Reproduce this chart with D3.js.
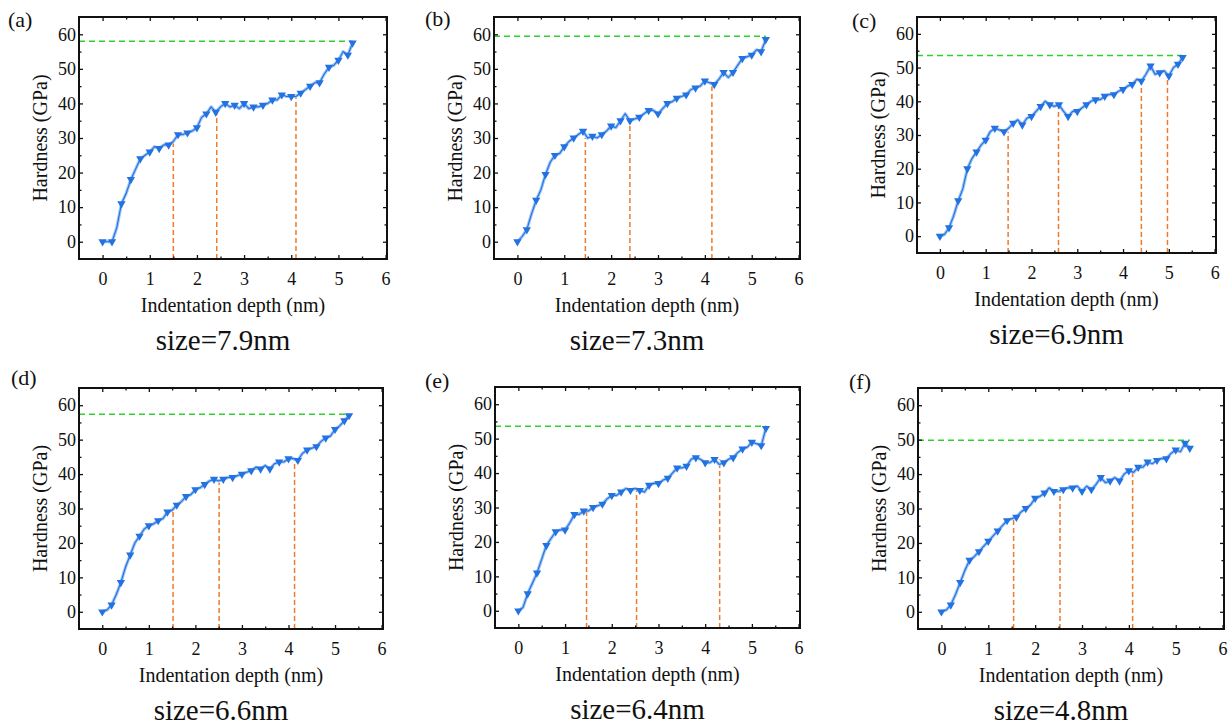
<!DOCTYPE html>
<html>
<head>
<meta charset="utf-8">
<script src="https://cdn.jsdelivr.net/npm/d3@7"></script>
<style>
  body { margin: 0; background: #fff; }
  svg { display: block; }
</style>
</head>
<body>
<div id="chart"></div>
<script>
var depth = [0, 0.1, 0.2, 0.3, 0.4, 0.5, 0.6, 0.7, 0.8, 0.9,
  1.0, 1.1, 1.2, 1.3, 1.4, 1.5, 1.6, 1.7, 1.8, 1.9,
  2.0, 2.1, 2.2, 2.3, 2.4, 2.5, 2.6, 2.7, 2.8, 2.9,
  3.0, 3.1, 3.2, 3.3, 3.4, 3.5, 3.6, 3.7, 3.8, 3.9,
  4.0, 4.1, 4.2, 4.3, 4.4, 4.5, 4.6, 4.7, 4.8, 4.9,
  5.0, 5.1, 5.2, 5.3];

// hardness (GPa), one array per panel
var hardA = [0, 0, 0, 4, 11, 14, 18, 21, 24, 25, 26, 27.5, 27, 28, 28, 29, 31, 31, 31.5, 32,
  33, 36, 37, 39, 37.5, 39, 40, 39, 39.5, 38.5, 40, 38.5, 39, 39, 39.5, 40, 41, 41, 42.5, 42,
  42, 42, 43, 44, 45, 46, 46, 48.5, 50.5, 51, 52.5, 55, 54, 57.5];
var hardB = [0, 1.5, 3.5, 8, 12, 15, 19.5, 23, 25, 25.5, 27.5, 29, 30, 31, 32, 30, 30.5, 30, 31, 32,
  33.5, 33, 35, 37, 35, 35.5, 36, 37, 38, 38, 37, 38.5, 40, 40.5, 41.5, 42, 42.5, 44, 44.5, 45,
  46.5, 46, 45.5, 47, 49, 47.5, 49, 51, 53, 53.5, 54, 55.5, 55, 58.5];
var hardC = [0, 0.5, 2.5, 6, 10.5, 14, 20, 23, 25, 27, 28.5, 31, 32, 31.5, 31, 32, 33.5, 34.5, 33, 35,
  35.5, 37, 38.5, 40, 39, 38.5, 39, 37, 35.5, 37, 37, 38, 39, 40, 40.5, 40.5, 41.5, 42, 42, 43,
  43.5, 44.5, 45, 46.5, 46, 48, 50.5, 48, 48.5, 49, 47.5, 50, 51, 53];
var hardD = [0, 0.5, 2, 5, 8.5, 13, 16.5, 20, 22, 24, 25, 25.5, 26.5, 27, 29, 29.5, 31, 32, 33.5, 34,
  35.5, 36, 37, 38, 38.5, 38, 38.5, 39, 39, 39.5, 40, 40.5, 41, 42, 41.5, 42.5, 41.5, 43, 43.5, 43.5,
  44.5, 44.5, 44, 46, 47, 47.5, 48, 49.5, 50.5, 51, 53, 54, 55.5, 57];
var hardE = [0, 1, 5, 8, 11, 15, 19, 21, 23, 23.5, 23.5, 25.5, 28, 28, 29, 29, 30, 30.5, 31, 32.5,
  33.5, 33.5, 34.5, 35.5, 35, 35.5, 35, 34.5, 36.5, 37, 37, 38, 38.5, 40, 41.5, 41.5, 42, 44, 44.5, 44,
  43, 43, 44, 42.5, 43, 44, 44.5, 46, 47, 47.5, 49, 48.5, 48, 53];
var hardF = [0, 0.5, 2, 5, 8.5, 12, 15, 16, 17.5, 19, 20.5, 22, 23.5, 25, 26.5, 27, 27.5, 29, 30, 31,
  33, 33.5, 34.5, 36, 35, 35, 35.5, 36, 36, 36.5, 35, 36.5, 35.5, 37, 39, 37.5, 38, 39, 38, 40,
  41, 40.5, 42, 42, 43.5, 43, 44, 44.5, 44.5, 46, 47, 46.5, 49, 47.5];

// dashed guide lines
var maxHardness = [58, 59.4, 53.6, 57.4, 53.6, 49.8];
var stageDepth = [[1.5, 2.42, 4.1], [1.45, 2.4, 4.15], [1.49, 2.59, 4.4, 4.97],
  [1.52, 2.51, 4.13], [1.46, 2.53, 4.31], [1.54, 2.53, 4.08]];
var stageHardness = [[28.5, 37.5, 42], [30, 35, 45], [31, 38, 46, 47],
  [30, 37.5, 44], [29, 35, 44], [27.5, 35.5, 40.5]];

var panelLabels = ["(a)", "(b)", "(c)", "(d)", "(e)", "(f)"];
var sizeLabels = ["size=7.9nm", "size=7.3nm", "size=6.9nm", "size=6.6nm", "size=6.4nm", "size=4.8nm"];
var xTicks = [0, 1, 2, 3, 4, 5, 6];
var xMinor = [0.5, 1.5, 2.5, 3.5, 4.5, 5.5];
var yTicks = [0, 10, 20, 30, 40, 50, 60];
var yMinor = [5, 15, 25, 35, 45, 55];

var series = [hardA, hardB, hardC, hardD, hardE, hardF];

// frame boxes [left, top, right, bottom] and label anchor
var frames = [[79, 17, 387, 259], [494, 17, 800, 259], [917, 17, 1216, 253],
  [79, 388, 383, 629], [495, 387, 800, 628], [918, 388, 1224, 629]];
var labelPos = [[8, 27], [425, 26], [852, 28], [11, 385], [425, 388], [849, 389]];

var serif = "Liberation Serif";
var blue = "#2272e2", halo = "#9dc3f3", orange = "#f07a2c", green = "#2fcf2f";

var svg = d3.select("#chart").append("svg")
  .attr("width", 1231)
  .attr("height", 725);

function addText(parent, txt, size) {
  return parent.append("text")
    .style("font-family", serif)
    .style("font-size", size + "px")
    .attr("fill", "#111")
    .text(txt);
}

series.forEach(function (vals, i) {
  var f = frames[i];
  var w = f[2] - f[0], h = f[3] - f[1];
  var x = d3.scaleLinear().domain([-0.5, 6.03]).range([0, w]);
  var y = d3.scaleLinear().domain([-5, 65]).range([h, 0]);
  var pts = depth.map(function (d, k) { return {x: d, y: vals[k]}; });

  var g = svg.append("g").attr("transform", "translate(" + f[0] + "," + f[1] + ")");

  // green max line
  g.append("line")
    .attr("x1", 0).attr("x2", x(depth[depth.length - 1]))
    .attr("y1", y(maxHardness[i])).attr("y2", y(maxHardness[i]))
    .attr("stroke", green).attr("stroke-width", 1.5).attr("stroke-dasharray", "6,4");

  // orange stage lines
  stageDepth[i].forEach(function (sx, k) {
    g.append("line")
      .attr("x1", x(sx)).attr("x2", x(sx))
      .attr("y1", h).attr("y2", y(stageHardness[i][k]))
      .attr("stroke", orange).attr("stroke-width", 1.5).attr("stroke-dasharray", "5,3");
  });

  var line = d3.line().x(function (d) { return x(d.x); }).y(function (d) { return y(d.y); });

  g.append("path").attr("d", line(pts))
    .attr("fill", "none").attr("stroke", halo).attr("stroke-width", 3.2).attr("stroke-linejoin", "round");
  g.append("path").attr("d", line(pts))
    .attr("fill", "none").attr("stroke", blue).attr("stroke-width", 1.1);

  // down triangles every 0.2 nm plus the last point
  var marks = pts.filter(function (d, k) { return k % 2 === 0 || k === pts.length - 1; });
  g.selectAll("path.mark").data(marks).enter().append("path")
    .attr("class", "mark")
    .attr("d", d3.symbol().type(d3.symbolTriangle).size(30))
    .attr("transform", function (d) { return "translate(" + x(d.x) + "," + y(d.y) + ") rotate(180)"; })
    .attr("fill", blue);

  // axes, ticks pointing inward
  function styleAxis(sel) {
    sel.attr("font-family", serif).attr("font-size", 18);
    sel.select(".domain").remove();
    sel.selectAll("line").attr("stroke", "#111").attr("stroke-width", 1.3);
    sel.selectAll("text").style("font-family", serif).style("font-size", "18px").attr("fill", "#111");
  }
  g.append("g").attr("transform", "translate(0," + h + ")")
    .call(d3.axisBottom(x).tickValues(xTicks).tickSize(-4).tickPadding(13).tickFormat(d3.format("d")))
    .call(styleAxis);
  g.append("g").attr("transform", "translate(0," + h + ")")
    .call(d3.axisBottom(x).tickValues(xMinor).tickSize(-2.5).tickFormat(""))
    .call(styleAxis);
  g.append("g")
    .call(d3.axisTop(x).tickValues(xTicks).tickSize(-4).tickFormat(""))
    .call(styleAxis);
  g.append("g")
    .call(d3.axisTop(x).tickValues(xMinor).tickSize(-2.5).tickFormat(""))
    .call(styleAxis);
  g.append("g")
    .call(d3.axisLeft(y).tickValues(yTicks).tickSize(-4).tickPadding(3).tickFormat(d3.format("d")))
    .call(styleAxis);
  g.append("g")
    .call(d3.axisLeft(y).tickValues(yMinor).tickSize(-2.5).tickFormat(""))
    .call(styleAxis);
  g.append("g").attr("transform", "translate(" + w + ",0)")
    .call(d3.axisRight(y).tickValues(yTicks).tickSize(-4).tickFormat(""))
    .call(styleAxis);
  g.append("g").attr("transform", "translate(" + w + ",0)")
    .call(d3.axisRight(y).tickValues(yMinor).tickSize(-2.5).tickFormat(""))
    .call(styleAxis);

  // frame
  g.append("rect").attr("width", w).attr("height", h)
    .attr("fill", "none").attr("stroke", "#111").attr("stroke-width", 2);

  // titles
  addText(g, "Hardness (GPa)", 20)
    .attr("transform", "translate(-39," + (h / 2) + ") rotate(-90)")
    .attr("text-anchor", "middle").attr("dy", "0.35em");
  addText(g, "Indentation depth (nm)", 20)
    .attr("x", w / 2).attr("y", h + 53)
    .attr("text-anchor", "middle");
  addText(g, sizeLabels[i], 29)
    .attr("x", w / 2 - 10).attr("y", h + 91)
    .attr("text-anchor", "middle");

  addText(svg, panelLabels[i], 22)
    .attr("x", labelPos[i][0]).attr("y", labelPos[i][1]);
});
</script>
</body>
</html>
